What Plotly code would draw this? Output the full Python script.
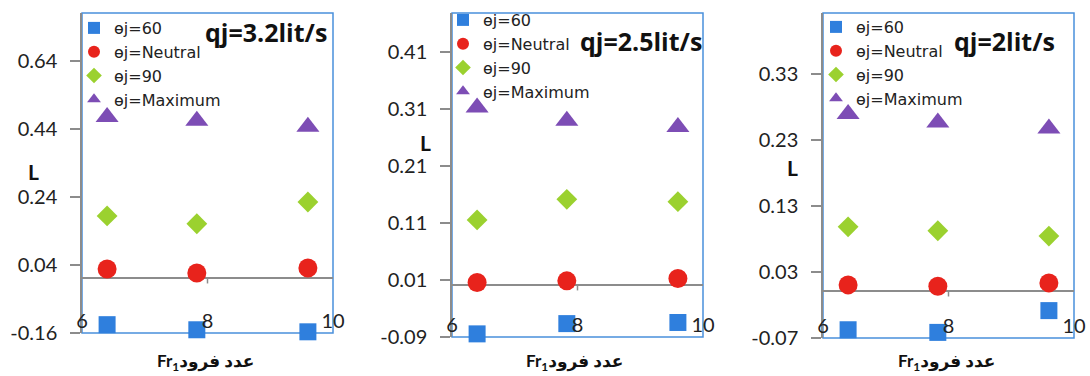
import plotly.graph_objects as go

# ---- data ----
fr = [6.4, 7.83, 9.6]
series_names = ["ɵj=60", "ɵj=Neutral", "ɵj=90", "ɵj=Maximum"]

q32_60 = [-0.136, -0.151, -0.157]
q32_neutral = [0.028, 0.016, 0.031]
q32_90 = [0.184, 0.161, 0.225]
q32_max = [0.475, 0.464, 0.446]

q25_60 = [-0.085, -0.067, -0.065]
q25_neutral = [0.005, 0.008, 0.012]
q25_90 = [0.115, 0.151, 0.147]
q25_max = [0.312, 0.289, 0.278]

q20_60 = [-0.058, -0.062, -0.029]
q20_neutral = [0.010, 0.008, 0.013]
q20_90 = [0.098, 0.092, 0.084]
q20_max = [0.269, 0.256, 0.247]

panel_titles = ["qj=3.2lit/s", "qj=2.5lit/s", "qj=2lit/s"]
ytick_sets = [
    [-0.16, 0.04, 0.24, 0.44, 0.64],
    [-0.09, 0.01, 0.11, 0.21, 0.31, 0.41],
    [-0.07, 0.03, 0.13, 0.23, 0.33],
]
xtick_vals = [6, 8, 10]

# ---- style ----
W, H = 1090, 376
FONT = "Lato, 'Noto Sans', 'DejaVu Sans', sans-serif"
LEGFONT = "'DejaVu Sans', sans-serif"
colors = ["#2F7FDD", "#E8231C", "#9BD12F", "#7D4DB5"]
symbols = ["square", "circle", "diamond", "triangle-up"]
msizes = [17, 19, 16, 20]

panels = [
    [q32_60, q32_neutral, q32_90, q32_max],
    [q25_60, q25_neutral, q25_90, q25_max],
    [q20_60, q20_neutral, q20_90, q20_max],
]
# pixel geometry of plot boxes (left, right, top, bottom)
boxes = [(82, 333, 13, 333), (452, 703, 13, 337), (823, 1074, 13, 338)]
yranges = [[-0.1605, 0.781], [-0.0905, 0.478], [-0.0705, 0.422]]
legend_pos = [(74, 11), (443, 3), (816, 10)]
title_pos = [(329, 32), (704, 41), (1057, 41)]
L_pos = [(33, 172), (425, 142), (792, 167)]
xt_pos = [(205, 362), (575, 362), (946, 362)]

fig = go.Figure()
layout = dict(
    width=W, height=H, margin=dict(l=0, r=0, t=0, b=0, pad=0),
    paper_bgcolor="white", plot_bgcolor="rgba(0,0,0,0)",
    font=dict(family=FONT, color="#222222"),
    showlegend=True,
)
shapes = []
annotations = []

for p in range(3):
    sfx = "" if p == 0 else str(p + 1)
    xa, ya = "x" + sfx, "y" + sfx
    leg = "legend" if p == 0 else "legend" + str(p + 1)
    for s in range(4):
        fig.add_trace(go.Scatter(
            x=fr, y=panels[p][s], mode="markers", name=series_names[s],
            xaxis=xa, yaxis=ya, legend=leg, cliponaxis=False,
            marker=dict(symbol=symbols[s], size=msizes[s], color=colors[s], line=dict(width=0)),
        ))
    l, r, t, b = boxes[p]
    layout["xaxis" + sfx] = dict(
        domain=[l / W, r / W], range=[6, 10], anchor="free", position=(H - b + 26) / H,
        tickvals=xtick_vals, ticks="", showline=False, showgrid=False, zeroline=False,
        tickfont=dict(size=20, color="#222222"), automargin=False,
    )
    layout["yaxis" + sfx] = dict(
        domain=[(H - b) / H, (H - t) / H], range=yranges[p], anchor=xa, automargin=False,
        tickvals=ytick_sets[p], ticktext=["%.2f" % v for v in ytick_sets[p]],
        ticks="outside", ticklen=10, tickcolor="#8c8c8c", tickwidth=1.5,
        ticklabelstandoff=9,
        showline=True, linecolor="#8c8c8c", linewidth=1.5, showgrid=False,
        zeroline=True, zerolinecolor="#8c8c8c", zerolinewidth=1.5,
        tickfont=dict(size=20, color="#222222"),
    )
    lx, ly = legend_pos[p]
    layout[leg] = dict(
        x=lx / W, y=1 - ly / H, xanchor="left", yanchor="top", traceorder="normal",
        bgcolor="rgba(0,0,0,0)", font=dict(size=16, family=LEGFONT, color="#222222"),
        itemsizing="constant", tracegroupgap=0, borderwidth=0,
    )
    # blue border
    shapes.append(dict(type="rect", xref=xa + " domain", yref=ya + " domain",
                       x0=0, x1=1, y0=0, y1=1, line=dict(color="#4A90DC", width=1.5), layer="below"))
    # tick mark at 8 on zero line
    shapes.append(dict(type="line", xref=xa, yref=ya, ysizemode="pixel", yanchor=0,
                       x0=8, x1=8, y0=0, y1=-5, line=dict(color="#8c8c8c", width=1.5)))
    tx, ty = title_pos[p]
    annotations.append(dict(text="<b>" + panel_titles[p] + "</b>", x=tx / W, y=1 - ty / H,
                            xref="paper", yref="paper", xanchor="right", yanchor="middle",
                            showarrow=False, font=dict(size=25, family="'Open Sans', sans-serif", color="#111111")))
    Lx, Ly = L_pos[p]
    annotations.append(dict(text="<b>L</b>", x=Lx / W, y=1 - Ly / H, xref="paper", yref="paper",
                            xanchor="center", yanchor="middle", showarrow=False,
                            font=dict(size=21, family=FONT, color="#111111")))
    Xx, Xy = xt_pos[p]
    annotations.append(dict(text="<b>Fr<sub>1</sub>عدد فرود</b>", x=Xx / W, y=1 - Xy / H,
                            xref="paper", yref="paper", xanchor="center", yanchor="middle",
                            showarrow=False, font=dict(size=17, family=FONT, color="#111111")))

layout["shapes"] = shapes
layout["annotations"] = annotations
fig.update_layout(**layout)
fig.write_html("out.html")
